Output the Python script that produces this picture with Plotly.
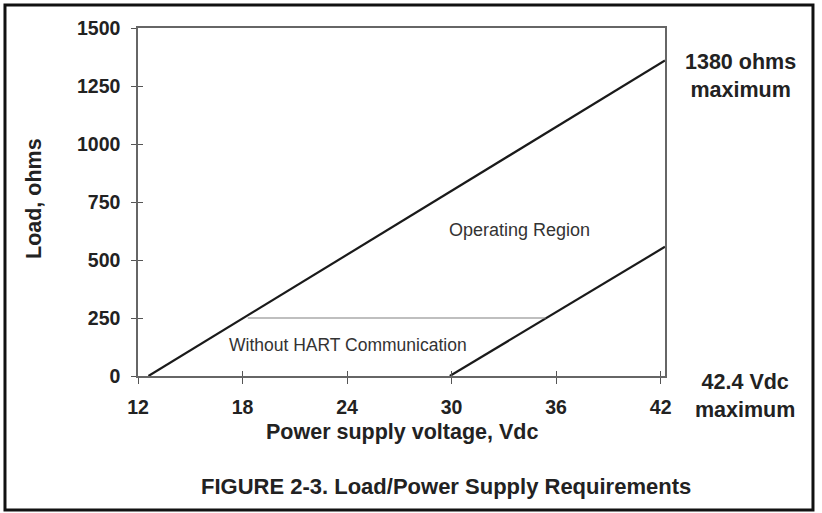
import plotly.graph_objects as go

# ---- data ----
max_load_v = [12.6, 42.25]
max_load_ohm = [0, 1360]
hart_min_v = [29.9, 42.25]
hart_min_ohm = [0, 557]
nohart_v = [18.3, 35.4]
nohart_ohm = [250, 250]
x_ticks = [12, 18, 24, 30, 36, 42]
y_ticks = [0, 250, 500, 750, 1000, 1250, 1500]

FONT = "Arial, Liberation Sans, Helvetica, sans-serif"
TXT = "#222222"
LINE = "#1a1a1a"

fig = go.Figure()
fig.add_trace(go.Scatter(x=max_load_v, y=max_load_ohm, mode="lines",
                         line=dict(color=LINE, width=2.2), showlegend=False, hoverinfo="skip"))
fig.add_trace(go.Scatter(x=hart_min_v, y=hart_min_ohm, mode="lines",
                         line=dict(color=LINE, width=2.2), showlegend=False, hoverinfo="skip"))
fig.add_trace(go.Scatter(x=nohart_v, y=nohart_ohm, mode="lines",
                         line=dict(color="#808080", width=1.2), showlegend=False, hoverinfo="skip"))
# dummy trace for the overlay axes that draw the inner half of the crossing ticks
fig.add_trace(go.Scatter(x=[None], y=[None], xaxis="x2", yaxis="y2", mode="lines",
                         showlegend=False, hoverinfo="skip"))

xr = [12, 42.25]
yr = [0, 1500]
axfont = dict(family=FONT, size=19.5, color=TXT, weight="bold")

fig.update_layout(
    width=822, height=513,
    margin=dict(l=138, r=157, t=28, b=137),
    paper_bgcolor="white", plot_bgcolor="white",
    font=dict(family=FONT, color=TXT),
    xaxis=dict(range=xr, tickvals=x_ticks, ticks="outside", ticklen=6, tickwidth=1,
               tickcolor="#555", showgrid=False, zeroline=False,
               showline=True, linecolor="#666", linewidth=1.5, mirror=True,
               tickfont=axfont, ticklabelstandoff=7),
    yaxis=dict(range=yr, tickvals=y_ticks, ticks="outside", ticklen=5, tickwidth=1,
               tickcolor="#555", showgrid=False, zeroline=False,
               showline=True, linecolor="#666", linewidth=1.5, mirror=True,
               tickfont=axfont, ticklabelstandoff=7),
    xaxis2=dict(range=xr, tickvals=x_ticks, ticks="inside", ticklen=5, tickwidth=1,
                tickcolor="#555", showticklabels=False, showgrid=False, zeroline=False,
                showline=False, overlaying="x", side="bottom", anchor="y2"),
    yaxis2=dict(range=yr, tickvals=y_ticks, ticks="inside", ticklen=5, tickwidth=1,
                tickcolor="#555", showticklabels=False, showgrid=False, zeroline=False,
                showline=False, overlaying="y", side="left", anchor="x2"),
    shapes=[dict(type="rect", xref="paper", yref="paper",
                 x0=-0.2524, x1=1.2808, y0=-0.385, y1=1.066,
                 line=dict(color="#111", width=3), fillcolor="rgba(0,0,0,0)", layer="below")],
)

C = dict(xanchor="center", yanchor="middle", showarrow=False)
ann = []
ann.append(dict(x=33.9, y=629, xref="x", yref="y", text="Operating Region",
                font=dict(family=FONT, size=18, color="#333"), **C))
ann.append(dict(x=24.06, y=134, xref="x", yref="y", text="Without HART Communication",
                font=dict(family=FONT, size=17.5, color="#333"), **C))
ann.append(dict(x=(740 - 138) / 527, y=(376 - 76) / 348, xref="paper", yref="paper",
                text="1380 ohms<br>maximum",
                font=dict(family=FONT, size=21.5, color=TXT, weight="bold"), **C))
ann.append(dict(x=(745 - 138) / 527, y=(376 - 396) / 348, xref="paper", yref="paper",
                text="42.4 Vdc<br>maximum",
                font=dict(family=FONT, size=21.5, color=TXT, weight="bold"), **C))
ann.append(dict(x=(402 - 138) / 527, y=(376 - 432) / 348, xref="paper", yref="paper",
                text="Power supply voltage, Vdc",
                font=dict(family=FONT, size=21.5, color=TXT, weight="bold"), **C))
ann.append(dict(x=(34 - 138) / 527, y=(376 - 199) / 348, xref="paper", yref="paper",
                text="Load, ohms", textangle=-90,
                font=dict(family=FONT, size=21.5, color=TXT, weight="bold"), **C))
ann.append(dict(x=(446 - 138) / 527, y=(376 - 486) / 348, xref="paper", yref="paper",
                text="FIGURE 2-3. Load/Power Supply Requirements",
                font=dict(family=FONT, size=22, color=TXT, weight="bold"), **C))
fig.update_layout(annotations=ann)

fig.write_html("out.html", config={"displayModeBar": False},
               post_script="document.body.style.margin='0';")
